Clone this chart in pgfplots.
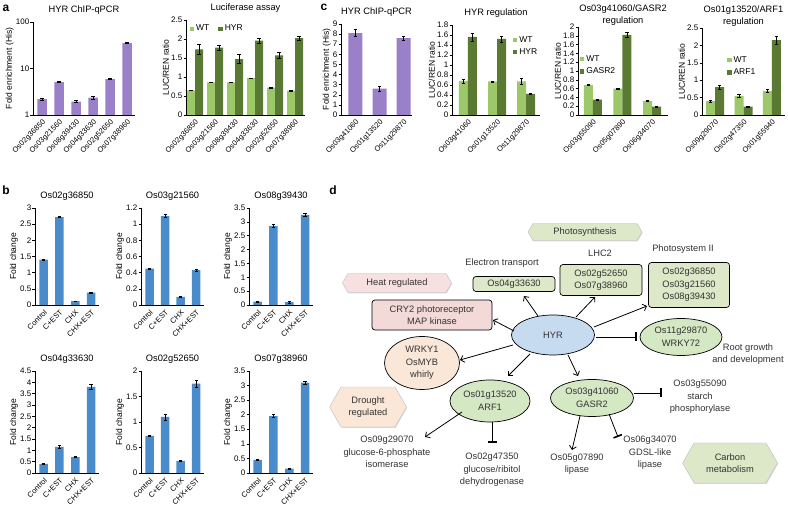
\documentclass[border=0pt]{standalone}
\usepackage{fontspec}
\setmainfont{Liberation Sans}
\usepackage{pgfplots}
\pgfplotsset{compat=1.18}
\usetikzlibrary{arrows.meta,shapes.geometric,shapes.symbols,shadows}

\definecolor{chip}{HTML}{9A80C9}
\definecolor{wt}{HTML}{9DC86A}
\definecolor{ox}{HTML}{5A7A33}
\definecolor{fc}{HTML}{4A8CCB}
\definecolor{dtext}{HTML}{333333}
\definecolor{boxgreen}{HTML}{DCE8C7}
\definecolor{ellgreen}{HTML}{D5E8C4}
\definecolor{boxpink}{HTML}{F4D9D9}
\definecolor{hexpink}{HTML}{F7E0E0}
\definecolor{peach}{HTML}{FBE7D7}
\definecolor{hyrblue}{HTML}{C7DBF0}

\newcommand\fs[1]{\fontsize{#1}{#1}\selectfont}

\pgfplotsset{
  panel/.style={
    scale only axis, anchor=south west,
    axis x line*=bottom, axis y line*=left,
    axis line style={black, line width=0.5pt},
    ymin=0, enlargelimits=false, clip=false,
    xtick style={draw=none},
    ytick style={black, line width=0.5pt},
    major tick length=2.5pt, tick align=outside,
    /pgf/number format/assume math mode=true,
    ticklabel style={font=\fs{8}},
    yticklabel style={inner sep=1pt},
    xticklabel style={rotate=45, anchor=north east, inner sep=1pt, font=\fs{7.5}},
    ylabel style={font=\fs{8.5}, inner sep=1pt},
    title style={font=\fontsize{9.3}{12}\selectfont, align=center, inner sep=1pt},
    legend style={draw=none, fill=none, font=\fs{8.5}, inner sep=0pt, row sep=1pt},
    legend cell align=left,
  },
  sq/.style={legend image code/.code={\fill[fill=#1] (0pt,-2.2pt) rectangle (4.4pt,2.2pt);}},
  eb/.style={error bars/.cd, y dir=both, y explicit,
    error bar style={draw=black, line width=0.5pt},
    error mark options={rotate=90, mark size=1.6pt, draw=black, line width=0.5pt}},
  fcpanel/.style={panel, ybar, bar width=8.5pt, xmin=-0.55, xmax=3.5,
    xtick={0,1,2,3}, xticklabels={Control,C+EST,CHX,CHX+EST},
    ylabel={Fold change}},
}

\begin{document}
\begin{tikzpicture}
\path[use as bounding box] (0,0) rectangle (788pt,516pt);

% ---------- a ----------
\begin{axis}[panel, at={(33pt,401pt)}, width=102pt, height=93pt,
  ybar, bar width=9.5pt,
  ymode=log, log origin=infty, ymin=1, ymax=100,
  ytick={1,10,100}, yticklabels={1,10,100}, yminorticks=false,
  xmin=-0.53, xmax=5.47, xtick={0,...,5},
  xticklabels={Os02g36850,Os03g21560,Os08g39430,Os04g33630,Os02g52650,Os07g38960},
  ylabel={Fold enrichment (His)}, title={HYR ChIP-qPCR}]
\addplot[fill=chip, draw=none, eb] coordinates {
  (0,2.2) +- (0,0.12) (1,5.1) +- (0,0.15) (2,1.95) +- (0,0.1)
  (3,2.35) +- (0,0.12) (4,5.9) +- (0,0.12) (5,35) +- (0,0.8)};
\end{axis}

\begin{axis}[panel, at={(186pt,401pt)}, width=119pt, height=95pt,
  ybar=0pt, bar width=8pt, ymax=2.5, ytick={0,0.5,...,2.5},
  xmin=-0.45, xmax=5.5, xtick={0,...,5},
  xticklabels={Os02g36850,Os03g21560,Os08g39430,Os04g33630,Os02g52650,Os07g38960},
  ylabel={LUC/REN ratio}, title={Luciferase assay},
  legend columns=-1, legend style={at={(0.03,0.97)}, anchor=north west,
    /tikz/every even column/.append style={column sep=7pt}}]
\addplot[fill=wt, draw=none, sq=wt, eb] coordinates {
  (0,0.65) +- (0,0.01) (1,0.86) +- (0,0.01) (2,0.86) +- (0,0.01)
  (3,0.97) +- (0,0.01) (4,0.72) +- (0,0.01) (5,0.64) +- (0,0.01)};
\addplot[fill=ox, draw=none, sq=ox, eb] coordinates {
  (0,1.73) +- (0,0.12) (1,1.77) +- (0,0.07) (2,1.47) +- (0,0.12)
  (3,1.96) +- (0,0.07) (4,1.57) +- (0,0.07) (5,2.02) +- (0,0.05)};
\legend{WT,HYR}
\end{axis}

% ---------- c ----------
\begin{axis}[panel, at={(341pt,401pt)}, width=71pt, height=91pt,
  ybar, bar width=14pt, ymax=9, ytick={0,1,...,9},
  xmin=-0.6, xmax=2.35, xtick={0,1,2},
  xticklabels={Os03g41060,Os01g13520,Os11g29870},
  ylabel={Fold enrichment (His)}, title={HYR ChIP-qPCR}]
\addplot[fill=chip, draw=none, eb] coordinates {
  (0,8.1) +- (0,0.35) (1,2.6) +- (0,0.25) (2,7.6) +- (0,0.2)};
\end{axis}

\begin{axis}[panel, at={(452pt,401pt)}, width=88pt, height=90pt,
  ybar=0pt, bar width=9pt, ymax=1.8,
  ytick={0,0.2,0.4,0.6,0.8,1,1.2,1.4,1.6,1.8},
  xmin=-0.55, xmax=2.48, xtick={0,1,2},
  xticklabels={Os03g41060,Os01g13520,Os11g29870},
  ylabel={LUC/REN ratio}, title={HYR regulation},
  legend style={at={(0.69,0.9)}, anchor=north west}]
\addplot[fill=wt, draw=none, sq=wt, eb] coordinates {
  (0,0.68) +- (0,0.04) (1,0.67) +- (0,0.01) (2,0.67) +- (0,0.06)};
\addplot[fill=ox, draw=none, sq=ox, eb] coordinates {
  (0,1.56) +- (0,0.08) (1,1.52) +- (0,0.06) (2,0.42) +- (0,0.01)};
\legend{WT,HYR}
\end{axis}

\begin{axis}[panel, at={(578pt,401pt)}, width=90pt, height=88pt,
  ybar=0pt, bar width=9pt, ymax=2,
  ytick={0,0.2,0.4,0.6,0.8,1,1.2,1.4,1.6,1.8,2},
  xmin=-0.5, xmax=2.54, xtick={0,1,2},
  xticklabels={Os03g55090,Os05g07890,Os06g34070},
  ylabel={LUC/REN ratio}, title={Os03g41060/GASR2\\regulation},
  title style={yshift=-6pt},
  legend style={at={(0.02,0.7)}, anchor=north west}]
\addplot[fill=wt, draw=none, sq=wt, eb] coordinates {
  (0,0.68) +- (0,0.01) (1,0.60) +- (0,0.01) (2,0.32) +- (0,0.01)};
\addplot[fill=ox, draw=none, sq=ox, eb] coordinates {
  (0,0.35) +- (0,0.01) (1,1.82) +- (0,0.05) (2,0.19) +- (0,0.01)};
\legend{WT,GASR2}
\end{axis}

\begin{axis}[panel, at={(702pt,401pt)}, width=83pt, height=87pt,
  ybar=0pt, bar width=9pt, ymax=2.5, ytick={0,0.5,...,2.5},
  xmin=-0.46, xmax=2.46, xtick={0,1,2},
  xticklabels={Os09g29070,Os02g47350,Os01g55940},
  ylabel={LUC/REN ratio}, title={Os01g13520/ARF1\\regulation},
  title style={yshift=-6pt},
  legend style={at={(0.3,0.7)}, anchor=north west}]
\addplot[fill=wt, draw=none, sq=wt, eb] coordinates {
  (0,0.40) +- (0,0.03) (1,0.55) +- (0,0.04) (2,0.69) +- (0,0.04)};
\addplot[fill=ox, draw=none, sq=ox, eb] coordinates {
  (0,0.80) +- (0,0.05) (1,0.24) +- (0,0.01) (2,2.15) +- (0,0.11)};
\legend{WT,ARF1}
\end{axis}

% ---------- b ----------
\begin{axis}[fcpanel, at={(35pt,211pt)}, width=64pt, height=97pt,
  ymax=3, ytick={0,0.5,...,3}, title={Os02g36850}]
\addplot[fill=fc, draw=none, eb] coordinates {
  (0,1.40) +- (0,0.02) (1,2.72) +- (0,0.02) (2,0.12) +- (0,0.01) (3,0.38) +- (0,0.01)};
\end{axis}
\begin{axis}[fcpanel, at={(141pt,211pt)}, width=63pt, height=97pt,
  ymax=1.2, ytick={0,0.2,0.4,0.6,0.8,1,1.2}, title={Os03g21560}]
\addplot[fill=fc, draw=none, eb] coordinates {
  (0,0.45) +- (0,0.01) (1,1.10) +- (0,0.02) (2,0.10) +- (0,0.005) (3,0.43) +- (0,0.01)};
\end{axis}
\begin{axis}[fcpanel, at={(249pt,211pt)}, width=64pt, height=97pt,
  ymax=3.5, ytick={0,0.5,...,3.5}, title={Os08g39430}]
\addplot[fill=fc, draw=none, eb] coordinates {
  (0,0.12) +- (0,0.02) (1,2.85) +- (0,0.05) (2,0.10) +- (0,0.02) (3,3.25) +- (0,0.06)};
\end{axis}

\begin{axis}[fcpanel, at={(35pt,43pt)}, width=64pt, height=102pt,
  ymax=4.5, ytick={0,0.5,...,4.5}, title={Os04g33630}]
\addplot[fill=fc, draw=none, eb] coordinates {
  (0,0.40) +- (0,0.02) (1,1.15) +- (0,0.07) (2,0.70) +- (0,0.02) (3,3.80) +- (0,0.10)};
\end{axis}
\begin{axis}[fcpanel, at={(141pt,43pt)}, width=63pt, height=102pt,
  ymax=2, ytick={0,0.5,...,2}, title={Os02g52650}]
\addplot[fill=fc, draw=none, eb] coordinates {
  (0,0.73) +- (0,0.01) (1,1.10) +- (0,0.06) (2,0.24) +- (0,0.01) (3,1.75) +- (0,0.07)};
\end{axis}
\begin{axis}[fcpanel, at={(249pt,43pt)}, width=64pt, height=102pt,
  ymax=3.5, ytick={0,0.5,...,3.5}, title={Os07g38960}]
\addplot[fill=fc, draw=none, eb] coordinates {
  (0,0.45) +- (0,0.02) (1,1.95) +- (0,0.05) (2,0.15) +- (0,0.01) (3,3.10) +- (0,0.04)};
\end{axis}

% ---------- panel letters and d ----------
\begin{scope}[shift={(0,516pt)}, x=1pt, y=-1pt,
  every node/.style={font=\fontsize{9.3}{12.5}\selectfont, text=dtext, align=center, inner sep=1pt},
  box/.style={draw=black, line width=0.7pt, rounded corners=3pt},
  ell/.style={ellipse, draw=black, line width=0.7pt, inner sep=0pt},
  hex/.style={signal, signal to=west and east, signal pointer angle=120,
    inner sep=0pt, draw=black!25, drop shadow={shadow xshift=0.6pt, shadow yshift=-0.9pt, opacity=0.3}},
  arr/.style={-{Straight Barb[length=3.5pt,width=7pt]}, line width=0.8pt, black},
  inh/.style={-{Bar[width=9pt,line width=1.6pt]}, line width=0.8pt, black}]
\node[font=\bfseries\fs{12}, text=black] at (6,8) {a};
\node[font=\bfseries\fs{12}, text=black] at (324,7) {c};
\node[font=\bfseries\fs{12}, text=black] at (6,190) {b};
\node[font=\bfseries\fs{12}, text=black] at (333,190) {d};

\node[hex, fill=boxgreen, minimum width=114pt, minimum height=17pt] at (585,232) {Photosynthesis};
\node at (502,263) {Electron transport};
\node at (600,253) {LHC2};
\node at (683,249) {Photosystem II};
\node[box, fill=boxgreen, minimum width=82pt, minimum height=15pt] at (514,284) {Os04g33630};
\node[box, fill=boxgreen, minimum width=82pt, minimum height=31pt] at (601,280) {Os02g52650\\Os07g38960};
\node[box, fill=boxgreen, minimum width=81pt, minimum height=45pt] at (689,285) {Os02g36850\\Os03g21560\\Os08g39430};
\node[hex, fill=hexpink, minimum width=109pt, minimum height=19pt] at (397,283) {Heat regulated};
\node[box, fill=boxpink, minimum width=120pt, minimum height=30pt] at (432,315) {CRY2 photoreceptor\\MAP kinase};
\node[ell, fill=hyrblue, minimum width=83pt, minimum height=40pt] at (553,335) {HYR};
\node[ell, fill=ellgreen, minimum width=82pt, minimum height=37pt] at (681,337) {Os11g29870\\WRKY72};
\node at (748,354) {Root growth\\and development};
\node[ell, fill=peach, minimum width=75pt, minimum height=53pt] at (422,363) {WRKY1\\OsMYB\\whirly};
\node[ell, fill=ellgreen, minimum width=80pt, minimum height=42pt] at (490,401) {Os01g13520\\ARF1};
\node[ell, fill=ellgreen, minimum width=83pt, minimum height=37pt] at (592,398) {Os03g41060\\GASR2};
\node at (700,397) {Os03g55090\\starch\\phosphorylase};
\node at (577,464) {Os05g07890\\lipase};
\node at (650,453) {Os06g34070\\GDSL-like\\lipase};
\node[hex, fill=boxgreen, minimum width=95pt, minimum height=40pt] at (730,463) {Carbon\\metabolism};
\node[hex, fill=peach, minimum width=77pt, minimum height=40pt] at (368,407) {Drought\\regulated};
\node at (387,452) {Os09g29070\\glucose-6-phosphate\\isomerase};
\node at (492,470) {Os02g47350\\glucose/ribitol\\dehydrogenase};

\draw[arr] (538,316) -- (524,296);
\draw[arr] (576,317) -- (595,297);
\draw[arr] (594,327) -- (647,306);
\draw[inh] (596,337) -- (637,337);
\draw[arr] (514,331) -- (493,320);
\draw[arr] (513,345) -- (460,360);
\draw[arr] (530,354) -- (508,376);
\draw[arr] (568,355) -- (578,376);
\draw[arr] (462,412) -- (425,437);
\draw[inh] (492,422) -- (492,443);
\draw[inh] (634,393) -- (662,393);
\draw[arr] (580,416) -- (572,450);
\draw[inh] (609,414) -- (618,437);
\end{scope}
\end{tikzpicture}
\end{document}
